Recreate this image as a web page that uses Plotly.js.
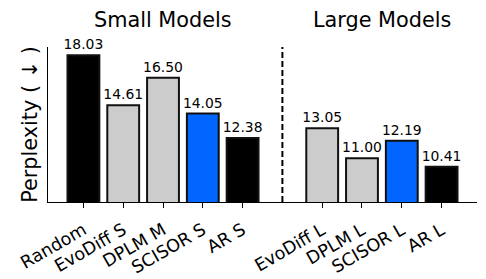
<!DOCTYPE html>
<html>
<head>
<meta charset="utf-8">
<script src="https://cdn.plot.ly/plotly-3.0.1.min.js"></script>
<style>html,body{margin:0;padding:0;background:#fff;}#chart{width:486px;height:279px;}</style>
</head>
<body>
<div id="chart"></div>
<script>
const smallLabels = ["Random", "EvoDiff S", "DPLM M", "SCISOR S", "AR S"];
const smallValues = [18.03, 14.61, 16.50, 14.05, 12.38];
const smallColors = ["#000000", "#cccccc", "#cccccc", "#0066ff", "#000000"];
const largeLabels = ["EvoDiff L", "DPLM L", "SCISOR L", "AR L"];
const largeValues = [13.05, 11.00, 12.19, 10.41];
const largeColors = ["#cccccc", "#cccccc", "#0066ff", "#000000"];
const groupTitles = ["Small Models", "Large Models"];
const yTitle = "Perplexity ( ↓ )";

const gap = smallLabels.length; // position of the separator
const xs = smallLabels.map((_, i) => i).concat(largeLabels.map((_, i) => gap + 1 + i));
const labels = smallLabels.concat(largeLabels);
const values = smallValues.concat(largeValues);
const colors = smallColors.concat(largeColors);
const font = "DejaVu Sans, sans-serif";

const trace = {
  type: "bar",
  x: xs,
  y: values,
  width: 0.8,
  marker: {color: colors, line: {color: "#111111", width: 2}},
  text: values.map(v => v.toFixed(2)),
  textposition: "outside",
  textfont: {family: font, size: 13.9, color: "#000"},
  constraintext: "none",
  cliponaxis: false,
  hoverinfo: "skip"
};

const smallMid = (smallLabels.length - 1) / 2;
const largeMid = gap + 1 + (largeLabels.length - 1) / 2;

const layout = {
  width: 486, height: 279,
  margin: {l: 48, r: 9, t: 47, b: 77},
  paper_bgcolor: "#fff", plot_bgcolor: "#fff",
  showlegend: false,
  bargap: 0,
  font: {family: font, color: "#000"},
  xaxis: {
    range: [-0.89, xs[xs.length - 1] + 0.89],
    tickvals: xs, ticktext: labels,
    tickangle: -30,
    tickfont: {family: font, size: 17.5, color: "#000"},
    ticks: "outside", ticklen: 5, tickwidth: 1, tickcolor: "#000",
    ticklabelstandoff: 5,
    showline: true, linecolor: "#000", linewidth: 1.2,
    showgrid: false, zeroline: false, fixedrange: true
  },
  yaxis: {
    range: [8.0, 18.6],
    showticklabels: false, ticks: "",
    showline: true, linecolor: "#000", linewidth: 1.2,
    showgrid: false, zeroline: false,
    title: {text: yTitle, font: {family: font, size: 20.8, color: "#000"}, standoff: 3}
  },
  shapes: [{
    type: "line", xref: "x", yref: "paper",
    x0: gap, x1: gap, y0: 0, y1: 1,
    line: {color: "#000", width: 2, dash: "6px,3px"}
  }],
  annotations: [
    {text: groupTitles[0], xref: "x", yref: "paper", x: smallMid, y: 1.174, showarrow: false,
     xanchor: "center", yanchor: "middle", font: {family: font, size: 20.8, color: "#000"}},
    {text: groupTitles[1], xref: "x", yref: "paper", x: largeMid, y: 1.174, showarrow: false,
     xanchor: "center", yanchor: "middle", font: {family: font, size: 20.8, color: "#000"}}
  ]
};

Plotly.newPlot("chart", [trace], layout, {displayModeBar: false, staticPlot: true});
</script>
</body>
</html>
